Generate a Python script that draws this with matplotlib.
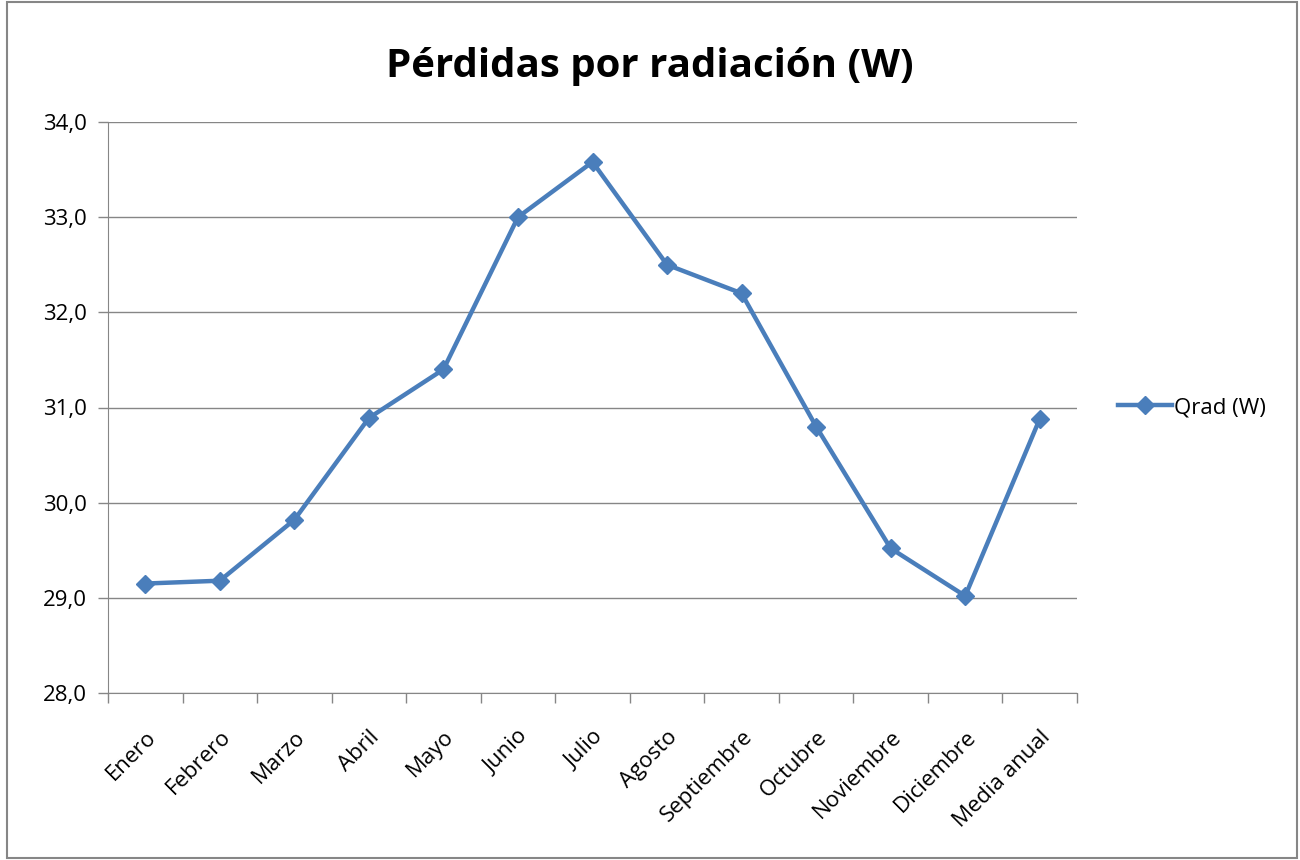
import matplotlib
matplotlib.use("Agg")
import matplotlib.pyplot as plt
import numpy as np
from matplotlib.patches import Rectangle

meses = ["Enero", "Febrero", "Marzo", "Abril", "Mayo", "Junio", "Julio",
         "Agosto", "Septiembre", "Octubre", "Noviembre", "Diciembre", "Media anual"]
qrad = [29.15, 29.18, 29.82, 30.89, 31.40, 33.00, 33.58,
        32.50, 32.20, 30.80, 29.52, 29.02, 30.88]
yticks = [28.0, 29.0, 30.0, 31.0, 32.0, 33.0, 34.0]

plt.rcParams['font.family'] = ['Open Sans', 'DejaVu Sans']
azul = "#4A7EBB"
gris = "#868686"

fig = plt.figure(figsize=(13, 8.6), dpi=100)
ax = fig.add_axes([108 / 1300, 1 - 693 / 860, (1077 - 108) / 1300, (693 - 122) / 860])

x = np.arange(len(meses))
ax.plot(x, qrad, color=azul, lw=3.2, marker="D", markersize=9.5, label="Qrad (W)")

ax.set_xlim(-0.5, len(meses) - 0.5)
ax.set_ylim(28, 34)
ax.set_yticks(yticks)
ax.set_yticklabels([f"{v:.1f}".replace(".", ",") for v in yticks], fontsize=16)
ax.yaxis.grid(True, color=gris, lw=1)
ax.set_axisbelow(True)

ax.set_xticks(x)
ax.set_xticklabels(meses, rotation=45, ha="right", rotation_mode="anchor", fontsize=16)
ax.tick_params(axis="x", length=0, pad=24)
ax.set_xticks(np.arange(-0.5, len(meses)), minor=True)
ax.tick_params(axis="x", which="minor", length=7, color=gris, width=1)
ax.tick_params(axis="y", length=7, color=gris, width=1, pad=8)

for s in ["top", "right"]:
    ax.spines[s].set_visible(False)
for s in ["left", "bottom"]:
    ax.spines[s].set_color(gris)

fig.suptitle("Pérdidas por radiación (W)", fontsize=29, fontweight="bold", y=0.945)

ax.legend(loc="center left", bbox_to_anchor=(1.022, 0.5), frameon=False,
          fontsize=16, handlelength=2.4, handletextpad=0.1)

fig.patches.append(Rectangle((7 / 1300, 2 / 860), 1290 / 1300, 856 / 860,
                             transform=fig.transFigure, fill=False,
                             edgecolor=gris, lw=1.5))

fig.savefig("out.png", dpi=100)
